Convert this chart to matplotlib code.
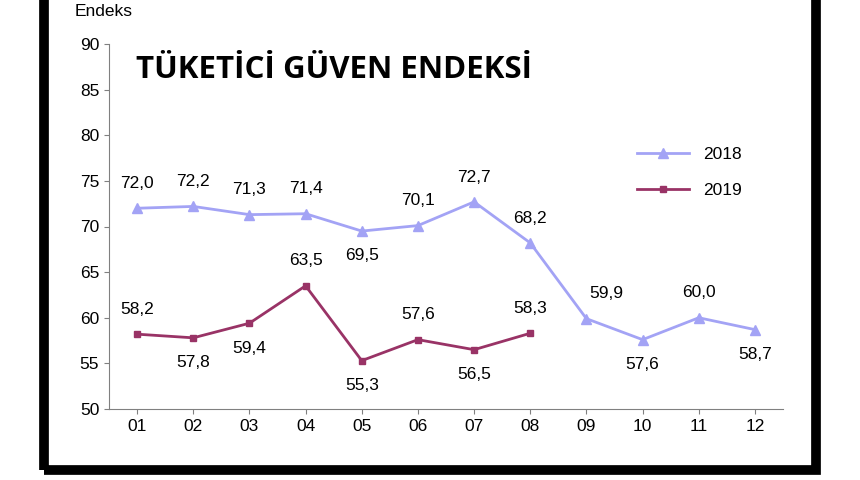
import matplotlib
matplotlib.use("Agg")
import matplotlib.pyplot as plt
from matplotlib.patches import Rectangle

plt.rcParams["font.family"] = "Liberation Sans"

months = ["01","02","03","04","05","06","07","08","09","10","11","12"]
v2018 = [72.0,72.2,71.3,71.4,69.5,70.1,72.7,68.2,59.9,57.6,60.0,58.7]
v2019 = [58.2,57.8,59.4,63.5,55.3,57.6,56.5,58.3]
pos2018 = ["a","a","a","a","b","a","a","a","r","b","a","b"]
pos2019 = ["a","b","b","a","b","a","b","a"]

fig = plt.figure(figsize=(8.6,4.8), dpi=100)
fig.patches.append(Rectangle((44/860, 10/480), 772/860, 1.2, transform=fig.transFigure,
                             fill=False, edgecolor="black", linewidth=7))
ax = fig.add_axes([109/860, 1-409/480, 674/860, 365/480])
x = list(range(len(months)))
ax.plot(x, v2018, color="#A3A3F5", marker="^", markersize=7, linewidth=2, label="2018")
ax.plot(x[:len(v2019)], v2019, color="#993366", marker="s", markersize=5, linewidth=2, label="2019")

def lab(xs, vs, ps):
    for xi, v, p in zip(xs, vs, ps):
        s = f"{v:.1f}".replace(".", ",")
        if p == "a":
            ax.text(xi, v+1.9, s, ha="center", va="bottom", fontsize=12.5)
        elif p == "b":
            ax.text(xi, v-1.9, s, ha="center", va="top", fontsize=12.5)
        else:
            ax.text(xi+0.35, v+1.9, s, ha="center", va="bottom", fontsize=12.5)
lab(x, v2018, pos2018)
lab(x[:len(v2019)], v2019, pos2019)

ax.set_xlim(-0.5, 11.5)
ax.set_ylim(50, 90)
ax.set_yticks(range(50, 91, 5))
ax.set_xticks(x)
ax.set_xticklabels(months)
ax.tick_params(labelsize=12.5, color="#808080")
for s in ["top", "right"]:
    ax.spines[s].set_visible(False)
for s in ["left", "bottom"]:
    ax.spines[s].set_color("#808080")
ax.legend(loc="upper left", bbox_to_anchor=(0.76, 0.76), frameon=False, fontsize=12.5,
          handlelength=3, labelspacing=1.2)
fig.text(75/860, 1-12/480, "Endeks", fontsize=12.5, va="center")
ax.text(0.04, 0.93, "TÜKETİCİ GÜVEN ENDEKSİ", transform=ax.transAxes, fontsize=22.5,
        fontweight="bold", fontfamily="Open Sans", va="center")
fig.savefig("out.png", dpi=100, facecolor="white")
